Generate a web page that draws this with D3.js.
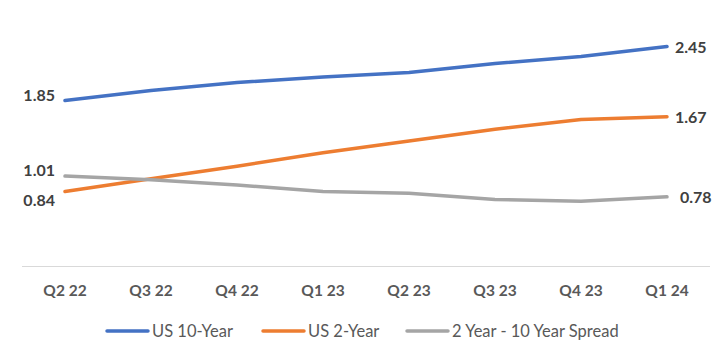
<!DOCTYPE html>
<html><head><meta charset="utf-8">
<script src="https://cdn.jsdelivr.net/npm/d3@7"></script>
<style>body{margin:0;background:#fff}svg{display:block}</style>
</head><body>
<svg id="c" width="728" height="360"></svg>
<script>
const categories = ["Q2 22","Q3 22","Q4 22","Q1 23","Q2 23","Q3 23","Q4 23","Q1 24"];
const us10 = [1.85, 1.96, 2.05, 2.11, 2.16, 2.26, 2.34, 2.45];
const us2 = [0.84, 0.98, 1.12, 1.27, 1.40, 1.53, 1.64, 1.67];
const spread = [1.01, 0.97, 0.91, 0.84, 0.82, 0.75, 0.73, 0.78];
const seriesNames = ["US 10-Year","US 2-Year","2 Year - 10 Year Spread"];
const colors = ["#4472C4","#ED7D31","#A5A5A5"];
const series = [us10, us2, spread];

const svg = d3.select("#c");
const font = "Lato, 'Open Sans', sans-serif";
const x = d3.scalePoint().domain(categories).range([22, 710]).padding(0.5);
const y = d3.scaleLinear().domain([0, 2.8]).range([267, 15]);

// axis line
svg.append("line").attr("x1",22).attr("x2",710).attr("y1",y(0)-0.5).attr("y2",y(0)-0.5)
  .attr("stroke","#D9D9D9").attr("stroke-width",1.2);

// x labels
svg.append("g").selectAll("text").data(categories).join("text")
  .attr("x", d=>x(d)).attr("y", 296).attr("text-anchor","middle")
  .attr("font-family",font).attr("font-weight","bold").attr("font-size",15.5)
  .attr("fill","#595959").text(d=>d);

const line = d3.line().x((d,i)=>x(categories[i])).y(d=>y(d)).curve(d3.curveLinear);
series.forEach((s,k)=>{
  svg.append("path").attr("d", line(s)).attr("fill","none")
    .attr("stroke", colors[k]).attr("stroke-width",3.5).attr("stroke-linecap","round")
    .attr("stroke-linejoin","round");
});

// end labels
const labelFmt = d3.format(".2f");
series.forEach((s,k)=>{
  let ly = y(s[0]);
  if (k===1) ly = y(s[0]) + 9;
  if (k===2) ly = y(s[0]) - 6;
  if (k===0) ly = y(s[0]) - 5;
  svg.append("text").attr("x", 55).attr("y", ly).attr("dy","0.35em")
    .attr("text-anchor","end").attr("font-family",font).attr("font-weight","bold")
    .attr("font-size",16).attr("fill","#404040").text(labelFmt(s[0]));
  const last = s[s.length-1];
  svg.append("text").attr("x", k===2 ? 680 : 675).attr("y", y(last)+1).attr("dy","0.35em")
    .attr("text-anchor","start").attr("font-family",font).attr("font-weight","bold")
    .attr("font-size",16).attr("fill","#404040").text(labelFmt(last));
});

// legend
const legX = [107, 263, 407];
const lg = svg.append("g");
seriesNames.forEach((n,k)=>{
  lg.append("line").attr("x1",legX[k]).attr("x2",legX[k]+41).attr("y1",331).attr("y2",331)
    .attr("stroke",colors[k]).attr("stroke-width",3.5).attr("stroke-linecap","round");
  lg.append("text").attr("x",legX[k]+45).attr("y",331).attr("dy","0.35em")
    .attr("font-family",font).attr("font-size",16.5).attr("fill","#595959").text(n);
});
</script>
</body></html>
